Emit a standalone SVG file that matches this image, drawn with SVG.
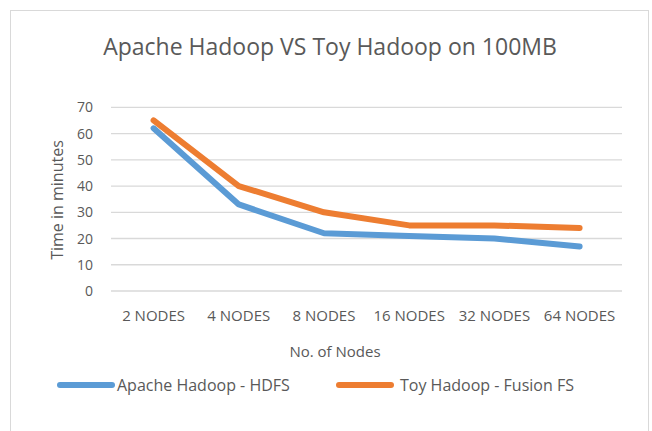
<svg xmlns="http://www.w3.org/2000/svg" width="652" height="431" viewBox="0 0 652 431">
<style>
text{font-family:"Open Sans","Liberation Sans",sans-serif;fill:#595959}
.grid{stroke:#d9d9d9;stroke-width:1.3}
.ytick{font-size:14px;text-anchor:end}
.xtick{font-size:15px;text-anchor:middle}
.series{fill:none;stroke-width:6;stroke-linecap:round;stroke-linejoin:round}
.blue{stroke:#5b9bd5}
.orange{stroke:#ed7d31}
.leg{font-size:16px}
</style>
<rect x="0" y="0" width="652" height="431" fill="#ffffff"/>
<rect x="10.5" y="10.5" width="638" height="440" fill="#ffffff" stroke="#d9d9d9" stroke-width="1"/>
<g id="title"><text x="330" y="55" font-size="23" text-anchor="middle">Apache Hadoop VS Toy Hadoop on 100MB</text></g>
<g id="gridlines">
<line class="grid" x1="111" y1="291" x2="622" y2="291"/>
<line class="grid" x1="111" y1="264.76" x2="622" y2="264.76"/>
<line class="grid" x1="111" y1="238.52" x2="622" y2="238.52"/>
<line class="grid" x1="111" y1="212.28" x2="622" y2="212.28"/>
<line class="grid" x1="111" y1="186.04" x2="622" y2="186.04"/>
<line class="grid" x1="111" y1="159.8" x2="622" y2="159.8"/>
<line class="grid" x1="111" y1="133.56" x2="622" y2="133.56"/>
<line class="grid" x1="111" y1="107.32" x2="622" y2="107.32"/>
</g>
<g id="y-axis">
<text class="ytick" x="93" y="296">0</text>
<text class="ytick" x="93" y="270">10</text>
<text class="ytick" x="93" y="243.5">20</text>
<text class="ytick" x="93" y="217.3">30</text>
<text class="ytick" x="93" y="191">40</text>
<text class="ytick" x="93" y="164.8">50</text>
<text class="ytick" x="93" y="138.6">60</text>
<text class="ytick" x="93" y="112.3">70</text>
<text x="0" y="0" font-size="16" text-anchor="middle" transform="translate(62.5,200) rotate(-90)">Time in minutes</text>
</g>
<g id="x-axis">
<text class="xtick" x="153.6" y="321">2 NODES</text>
<text class="xtick" x="238.8" y="321">4 NODES</text>
<text class="xtick" x="324" y="321">8 NODES</text>
<text class="xtick" x="409.2" y="321">16 NODES</text>
<text class="xtick" x="494.4" y="321">32 NODES</text>
<text class="xtick" x="579.6" y="321">64 NODES</text>
<text x="335" y="357" font-size="15" text-anchor="middle">No. of Nodes</text>
</g>
<g id="connectors">
<polyline id="series-hdfs" class="series blue" points="153.6,128.31 238.8,204.41 324,233.27 409.2,235.9 494.4,238.52 579.6,246.39"/>
<polyline id="series-fusion" class="series orange" points="153.6,120.44 238.8,186.04 324,212.28 409.2,225.4 494.4,225.4 579.6,228.02"/>
</g>
<g id="legend">
<line class="series blue" x1="60" y1="385" x2="112" y2="385"/>
<text class="leg" x="117" y="391">Apache Hadoop - HDFS</text>
<line class="series orange" x1="339" y1="385" x2="391" y2="385"/>
<text class="leg" x="400" y="391">Toy Hadoop - Fusion FS</text>
</g>
</svg>
